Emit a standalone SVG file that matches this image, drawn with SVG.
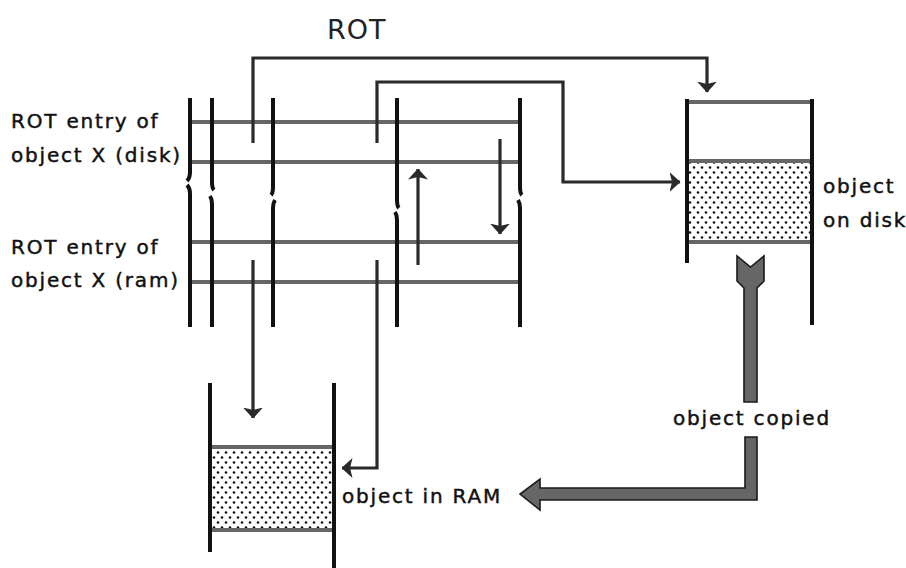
<svg xmlns="http://www.w3.org/2000/svg" width="906" height="568" viewBox="0 0 906 568">
<style>
.txt{font-family:"DejaVu Sans","Liberation Sans",sans-serif;font-size:20px;fill:#111;stroke:#111;stroke-width:0.45;letter-spacing:1.8px}
.title{font-family:"DejaVu Sans","Liberation Sans",sans-serif;font-size:27px;fill:#222;letter-spacing:1px}
.vbar{stroke:#111;stroke-width:4;fill:none;stroke-linecap:butt}
.hbar{stroke:#666;stroke-width:4;fill:none}
.conn{stroke:#2a2a2a;stroke-width:3.2;fill:none}
.thick{fill:#666;stroke:#1a1a1a;stroke-width:1.6;stroke-linejoin:miter}
</style>
<defs>
<pattern id="dots" width="8" height="10" patternUnits="userSpaceOnUse">
<rect width="8" height="10" fill="#fff"/>
<circle cx="2" cy="2.5" r="1.3" fill="#111"/>
<circle cx="6" cy="7.5" r="1.3" fill="#111"/>
</pattern>
<marker id="ah" viewBox="0 0 11 20" refX="10.5" refY="10" markerWidth="11" markerHeight="20" markerUnits="userSpaceOnUse" orient="auto">
<path d="M0,0 L11,10 L0,20 L2.5,10 Z" fill="#2a2a2a"/>
</marker>
</defs>
<rect width="906" height="568" fill="#fff"/>

<text class="title" x="327" y="39">ROT</text>

<g id="rot-table">
<line class="hbar" x1="190" y1="122" x2="520" y2="122"/>
<line class="hbar" x1="190" y1="162" x2="520" y2="162"/>
<line class="hbar" x1="190" y1="242" x2="520" y2="242"/>
<line class="hbar" x1="190" y1="282" x2="520" y2="282"/>
<path class="vbar" d="M190,98 V172 Q190,178 187,181 M187,185 Q190,188 190,194 V327"/>
<path class="vbar" d="M212,98 V182 Q212,188 214,190 M210,196 Q212,199 212,204 V327"/>
<path class="vbar" d="M273,98 V187 Q273,193 271,195 M275,200 Q273,203 273,208 V327"/>
<path class="vbar" d="M397,98 V200 Q397,206 399,208 M395,212 Q397,215 397,220 V327"/>
<path class="vbar" d="M520,98 V187 Q520,193 522,195 M518,200 Q520,203 520,208 V327"/>
</g>

<g id="label-disk-entry">
<text class="txt" x="11" y="128">ROT entry of</text>
<text class="txt" x="11" y="162">object X (disk)</text>
</g>
<g id="label-ram-entry">
<text class="txt" x="11" y="254">ROT entry of</text>
<text class="txt" x="11" y="287">object X (ram)</text>
</g>

<g id="disk-box">
<rect x="689" y="163" width="121" height="77" fill="url(#dots)"/>
<line class="hbar" x1="687" y1="102" x2="812" y2="102"/>
<line class="hbar" x1="687" y1="161" x2="812" y2="161"/>
<line class="hbar" x1="687" y1="242" x2="812" y2="242"/>
<line class="vbar" x1="687" y1="99" x2="687" y2="263"/>
<line class="vbar" x1="812" y1="99" x2="812" y2="325"/>
<text class="txt" x="823" y="193">object</text>
<text class="txt" x="823" y="227">on disk</text>
</g>

<g id="ram-box">
<rect x="212" y="449" width="120" height="79" fill="url(#dots)"/>
<line class="hbar" x1="210" y1="447" x2="334" y2="447"/>
<line class="hbar" x1="210" y1="530" x2="334" y2="530"/>
<line class="vbar" x1="210" y1="383" x2="210" y2="552"/>
<line class="vbar" x1="334" y1="383" x2="334" y2="568"/>
<text class="txt" x="342" y="503">object in RAM</text>
</g>

<g id="copy-label">
<text class="txt" x="673" y="425">object copied</text>
</g>

<g id="connectors">
<path class="conn" d="M253,143 V58 H707 V92" marker-end="url(#ah)"/>
<path class="conn" d="M377,143 V82 H563 V182 H680" marker-end="url(#ah)"/>
<path class="conn" d="M253,260 V418" marker-end="url(#ah)"/>
<path class="conn" d="M377,260 V468 H342" marker-end="url(#ah)"/>
<path class="conn" d="M418,265 V169" marker-end="url(#ah)"/>
<path class="conn" d="M500,139 V234" marker-end="url(#ah)"/>
<path class="thick" d="M744,402 V288 L737,281 V256 L750.5,267 L764,256 V281 L757,288 V402 Z"/>
<path class="thick" d="M745,437 H757 V500 H540 V510 L520,494 L540,479 V488 H745 Z"/>
</g>
</svg>
